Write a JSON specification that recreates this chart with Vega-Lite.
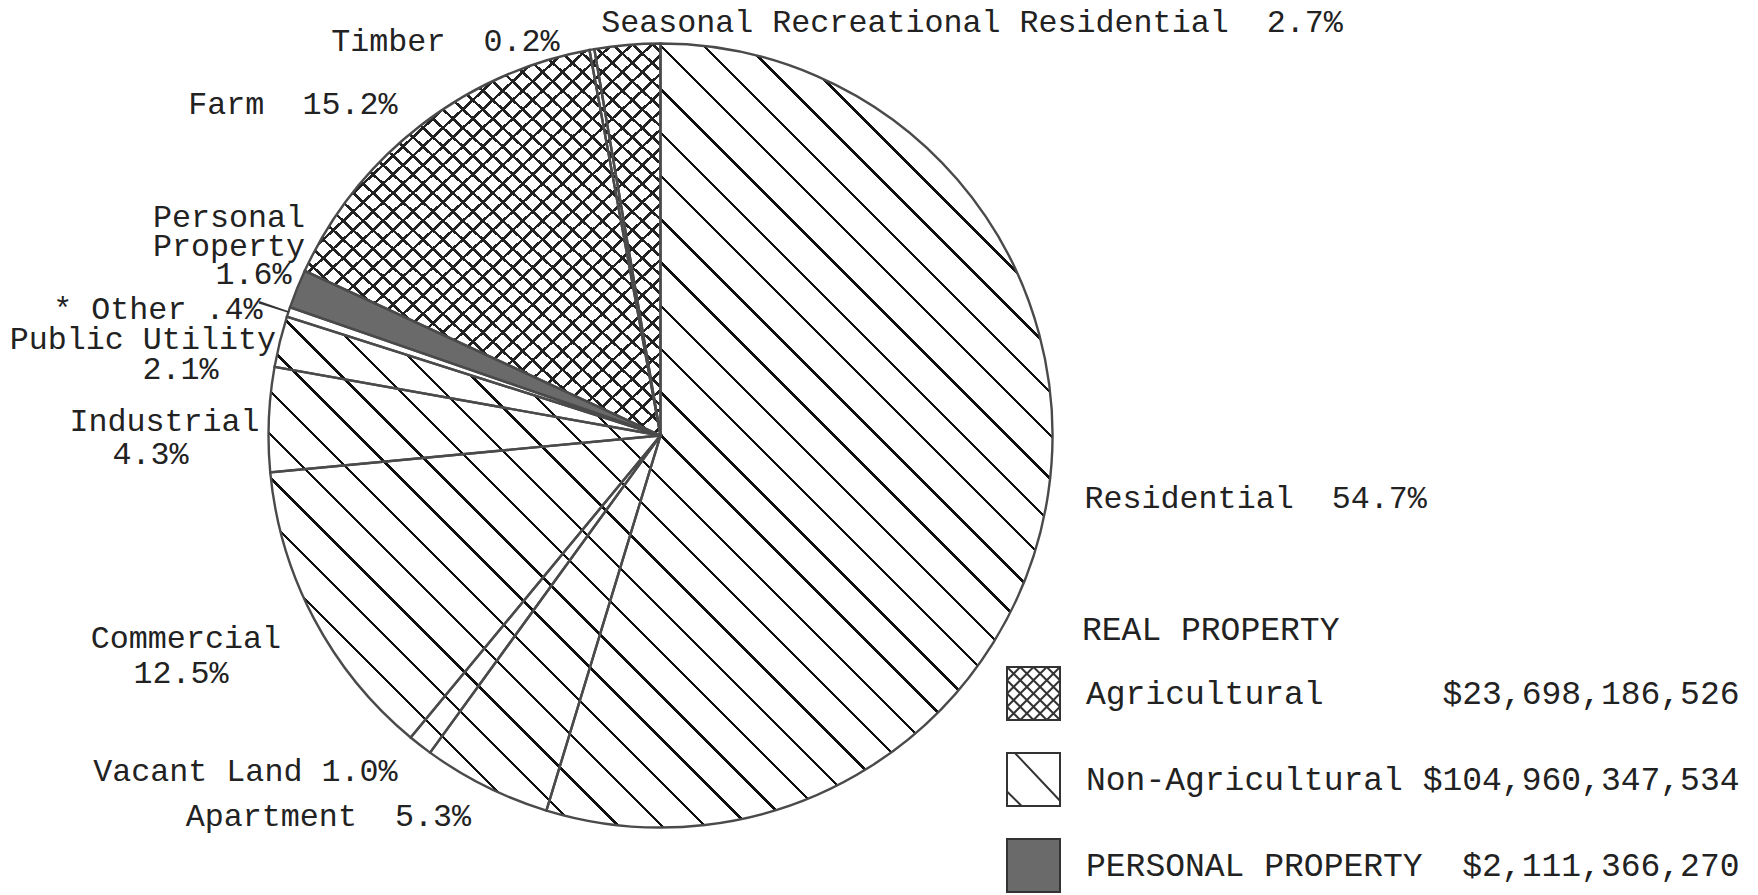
{
  "$schema": "https://vega.github.io/schema/vega-lite/v6.json",
  "width": 1321,
  "height": 871,
  "autosize": {"type": "none"},
  "padding": {"left": 0, "top": 0, "right": 437, "bottom": 24},
  "background": "white",
  "config": {
    "view": {"stroke": null},
    "text": {"font": "Liberation Mono", "fontSize": 31.7, "color": "#222", "baseline": "alphabetic"}
  },
  "datasets": {
    "slices": [
      {"name": "Residential", "pct": 54.7, "order": 1, "group": "Non-Agricultural", "label1": "Residential\u00a0\u00a054.7%"},
      {"name": "Apartment", "pct": 5.3, "order": 2, "group": "Non-Agricultural", "label1": "Apartment\u00a0\u00a05.3%"},
      {"name": "Vacant Land", "pct": 1.0, "order": 3, "group": "Non-Agricultural", "label1": "Vacant Land 1.0%"},
      {"name": "Commercial", "pct": 12.5, "order": 4, "group": "Non-Agricultural", "label1": "Commercial", "label2": "12.5%"},
      {"name": "Industrial", "pct": 4.3, "order": 5, "group": "Non-Agricultural", "label1": "Industrial", "label2": "4.3%"},
      {"name": "Public Utility", "pct": 2.1, "order": 6, "group": "Non-Agricultural", "label1": "Public Utility", "label2": "2.1%"},
      {"name": "Other", "pct": 0.4, "order": 7, "group": "Non-Agricultural", "label1": "* Other .4%"},
      {"name": "Personal Property", "pct": 1.6, "order": 8, "group": "PERSONAL PROPERTY", "label1": ["Personal", "Property"], "label2": "1.6%"},
      {"name": "Farm", "pct": 15.2, "order": 9, "group": "Agricultural", "label1": "Farm\u00a0\u00a015.2%"},
      {"name": "Timber", "pct": 0.2, "order": 10, "group": "Agricultural", "label1": "Timber\u00a0\u00a00.2%"},
      {"name": "Seasonal Recreational Residential", "pct": 2.7, "order": 11, "group": "Agricultural", "label1": "Seasonal Recreational Residential\u00a0\u00a02.7%"}
    ]
  },
  "data": {"name": "slices"},
  "layer": [
    {
      "transform": [{"aggregate": [{"op": "sum", "field": "pct", "as": "total"}]}],
      "mark": {
        "type": "arc", "radius": 392,
        "fill": {
          "gradient": "linear", "x1": 0, "y1": 1, "x2": 1, "y2": 0,
          "stops": [
            {"offset": 0, "color": "#fff"},
            {"offset": 0.1679, "color": "#fff"}, {"offset": 0.1679, "color": "#111"}, {"offset": 0.1701, "color": "#111"}, {"offset": 0.1701, "color": "#fff"},
            {"offset": 0.1955, "color": "#fff"}, {"offset": 0.1955, "color": "#111"}, {"offset": 0.1977, "color": "#111"}, {"offset": 0.1977, "color": "#fff"},
            {"offset": 0.2231, "color": "#fff"}, {"offset": 0.2231, "color": "#111"}, {"offset": 0.2253, "color": "#111"}, {"offset": 0.2253, "color": "#fff"},
            {"offset": 0.2507, "color": "#fff"}, {"offset": 0.2507, "color": "#111"}, {"offset": 0.2529, "color": "#111"}, {"offset": 0.2529, "color": "#fff"},
            {"offset": 0.2783, "color": "#fff"}, {"offset": 0.2783, "color": "#111"}, {"offset": 0.2805, "color": "#111"}, {"offset": 0.2805, "color": "#fff"},
            {"offset": 0.3059, "color": "#fff"}, {"offset": 0.3059, "color": "#111"}, {"offset": 0.3081, "color": "#111"}, {"offset": 0.3081, "color": "#fff"},
            {"offset": 0.3335, "color": "#fff"}, {"offset": 0.3335, "color": "#111"}, {"offset": 0.3357, "color": "#111"}, {"offset": 0.3357, "color": "#fff"},
            {"offset": 0.3611, "color": "#fff"}, {"offset": 0.3611, "color": "#111"}, {"offset": 0.3633, "color": "#111"}, {"offset": 0.3633, "color": "#fff"},
            {"offset": 0.3887, "color": "#fff"}, {"offset": 0.3887, "color": "#111"}, {"offset": 0.3909, "color": "#111"}, {"offset": 0.3909, "color": "#fff"},
            {"offset": 0.4163, "color": "#fff"}, {"offset": 0.4163, "color": "#111"}, {"offset": 0.4185, "color": "#111"}, {"offset": 0.4185, "color": "#fff"},
            {"offset": 0.4439, "color": "#fff"}, {"offset": 0.4439, "color": "#111"}, {"offset": 0.4461, "color": "#111"}, {"offset": 0.4461, "color": "#fff"},
            {"offset": 0.4715, "color": "#fff"}, {"offset": 0.4715, "color": "#111"}, {"offset": 0.4737, "color": "#111"}, {"offset": 0.4737, "color": "#fff"},
            {"offset": 0.4991, "color": "#fff"}, {"offset": 0.4991, "color": "#111"}, {"offset": 0.5013, "color": "#111"}, {"offset": 0.5013, "color": "#fff"},
            {"offset": 0.5267, "color": "#fff"}, {"offset": 0.5267, "color": "#111"}, {"offset": 0.5289, "color": "#111"}, {"offset": 0.5289, "color": "#fff"},
            {"offset": 0.5543, "color": "#fff"}, {"offset": 0.5543, "color": "#111"}, {"offset": 0.5565, "color": "#111"}, {"offset": 0.5565, "color": "#fff"},
            {"offset": 0.5819, "color": "#fff"}, {"offset": 0.5819, "color": "#111"}, {"offset": 0.5841, "color": "#111"}, {"offset": 0.5841, "color": "#fff"},
            {"offset": 0.6095, "color": "#fff"}, {"offset": 0.6095, "color": "#111"}, {"offset": 0.6117, "color": "#111"}, {"offset": 0.6117, "color": "#fff"},
            {"offset": 0.6371, "color": "#fff"}, {"offset": 0.6371, "color": "#111"}, {"offset": 0.6393, "color": "#111"}, {"offset": 0.6393, "color": "#fff"},
            {"offset": 0.6647, "color": "#fff"}, {"offset": 0.6647, "color": "#111"}, {"offset": 0.6669, "color": "#111"}, {"offset": 0.6669, "color": "#fff"},
            {"offset": 0.6923, "color": "#fff"}, {"offset": 0.6923, "color": "#111"}, {"offset": 0.6945, "color": "#111"}, {"offset": 0.6945, "color": "#fff"},
            {"offset": 0.7199, "color": "#fff"}, {"offset": 0.7199, "color": "#111"}, {"offset": 0.7221, "color": "#111"}, {"offset": 0.7221, "color": "#fff"},
            {"offset": 0.7475, "color": "#fff"}, {"offset": 0.7475, "color": "#111"}, {"offset": 0.7497, "color": "#111"}, {"offset": 0.7497, "color": "#fff"},
            {"offset": 0.7751, "color": "#fff"}, {"offset": 0.7751, "color": "#111"}, {"offset": 0.7773, "color": "#111"}, {"offset": 0.7773, "color": "#fff"},
            {"offset": 0.8027, "color": "#fff"}, {"offset": 0.8027, "color": "#111"}, {"offset": 0.8049, "color": "#111"}, {"offset": 0.8049, "color": "#fff"},
            {"offset": 0.8303, "color": "#fff"}, {"offset": 0.8303, "color": "#111"}, {"offset": 0.8325, "color": "#111"}, {"offset": 0.8325, "color": "#fff"},
            {"offset": 1, "color": "#fff"}
          ]
        }
      },
      "encoding": {"theta": {"field": "total", "type": "quantitative"}}
    },
    {
      "transform": [
        {"aggregate": [{"op": "sum", "field": "pct", "as": "gpct"}, {"op": "min", "field": "order", "as": "gorder"}], "groupby": ["group"]}
      ],
      "mark": {"type": "arc", "radius": 392},
      "encoding": {
        "theta": {"field": "gpct", "type": "quantitative", "stack": true},
        "order": {"field": "gorder", "type": "quantitative"},
        "fill": {
          "field": "group", "type": "nominal",
          "scale": {"domain": ["Agricultural", "Non-Agricultural", "PERSONAL PROPERTY"], "range": ["white", "transparent", "#6a6a6a"]},
          "legend": {
            "title": "REAL PROPERTY",
            "orient": "none", "legendX": 1006, "legendY": 614, "direction": "vertical",
            "padding": 0,
            "titleFont": "Liberation Mono", "titleFontSize": 33, "titleFontWeight": "normal", "titleColor": "#222", "titlePadding": 19, "titleLimit": 0,
            "labelFont": "Liberation Mono", "labelFontSize": 33, "labelColor": "#222", "labelLimit": 0, "labelOffset": 25,
            "symbolType": "square", "symbolSize": 2809, "symbolStrokeWidth": 2, "symbolStrokeColor": "#333",
            "rowPadding": 25,
            "labelExpr": "datum.value === 'Agricultural' ? 'Agricultural\u00a0\u00a0\u00a0\u00a0\u00a0\u00a0$23,698,186,526' : datum.value === 'Non-Agricultural' ? 'Non-Agricultural $104,960,347,534' : 'PERSONAL\u00a0PROPERTY\u00a0\u00a0$2,111,366,270'",
            "encode": {
              "title": {"update": {"dx": {"value": 76}}},
              "symbols": {
                "update": {
                  "shape": [
                    {"test": "datum.value === 'Agricultural'", "value": "M-1,-1H1V1H-1Z M-1,-0.5L-0.5,-1 M-1,0L0,-1 M-1,0.5L0.5,-1 M-1,1L1,-1 M-0.5,1L1,-0.5 M0,1L1,0 M0.5,1L1,0.5 M-1,0.5L-0.5,1 M-1,0L0,1 M-1,-0.5L0.5,1 M-1,-1L1,1 M-0.5,-1L1,0.5 M0,-1L1,0 M0.5,-1L1,-0.5"},
                    {"test": "datum.value === 'Non-Agricultural'", "value": "M-1,-1H1V1H-1Z M-0.7,-1L1,0.8 M-1,0.45L-0.45,1"},
                    {"value": "square"}
                  ],
                  "stroke": {"value": "#333"},
                  "strokeWidth": {"value": 2}
                }
              }
            }
          }
        }
      }
    },
    {
      "transform": [
        {"aggregate": [{"op": "sum", "field": "pct", "as": "gpct"}, {"op": "min", "field": "order", "as": "gorder"}], "groupby": ["group"]},
        {"stack": "gpct", "groupby": [], "sort": [{"field": "gorder", "order": "ascending"}], "as": ["g0", "g1"]},
        {"filter": "datum.group === 'Agricultural'"}
      ],
      "mark": {
        "type": "arc", "radius": 392,
        "fill": {
          "gradient": "linear", "x1": 0.0448, "y1": 1.0379, "x2": 0.9552, "y2": -0.0379,
          "stops": [
            {"offset": 0, "color": "rgba(34,34,34,0)"},
            {"offset": 0.0095, "color": "rgba(34,34,34,0)"}, {"offset": 0.0095, "color": "#222"}, {"offset": 0.0145, "color": "#222"}, {"offset": 0.0145, "color": "rgba(34,34,34,0)"},
            {"offset": 0.0352, "color": "rgba(34,34,34,0)"}, {"offset": 0.0352, "color": "#222"}, {"offset": 0.0402, "color": "#222"}, {"offset": 0.0402, "color": "rgba(34,34,34,0)"},
            {"offset": 0.0609, "color": "rgba(34,34,34,0)"}, {"offset": 0.0609, "color": "#222"}, {"offset": 0.0659, "color": "#222"}, {"offset": 0.0659, "color": "rgba(34,34,34,0)"},
            {"offset": 0.0866, "color": "rgba(34,34,34,0)"}, {"offset": 0.0866, "color": "#222"}, {"offset": 0.0916, "color": "#222"}, {"offset": 0.0916, "color": "rgba(34,34,34,0)"},
            {"offset": 0.1123, "color": "rgba(34,34,34,0)"}, {"offset": 0.1123, "color": "#222"}, {"offset": 0.1173, "color": "#222"}, {"offset": 0.1173, "color": "rgba(34,34,34,0)"},
            {"offset": 0.138, "color": "rgba(34,34,34,0)"}, {"offset": 0.138, "color": "#222"}, {"offset": 0.143, "color": "#222"}, {"offset": 0.143, "color": "rgba(34,34,34,0)"},
            {"offset": 0.1637, "color": "rgba(34,34,34,0)"}, {"offset": 0.1637, "color": "#222"}, {"offset": 0.1687, "color": "#222"}, {"offset": 0.1687, "color": "rgba(34,34,34,0)"},
            {"offset": 0.1894, "color": "rgba(34,34,34,0)"}, {"offset": 0.1894, "color": "#222"}, {"offset": 0.1944, "color": "#222"}, {"offset": 0.1944, "color": "rgba(34,34,34,0)"},
            {"offset": 0.2151, "color": "rgba(34,34,34,0)"}, {"offset": 0.2151, "color": "#222"}, {"offset": 0.2201, "color": "#222"}, {"offset": 0.2201, "color": "rgba(34,34,34,0)"},
            {"offset": 0.2408, "color": "rgba(34,34,34,0)"}, {"offset": 0.2408, "color": "#222"}, {"offset": 0.2458, "color": "#222"}, {"offset": 0.2458, "color": "rgba(34,34,34,0)"},
            {"offset": 0.2664, "color": "rgba(34,34,34,0)"}, {"offset": 0.2664, "color": "#222"}, {"offset": 0.2714, "color": "#222"}, {"offset": 0.2714, "color": "rgba(34,34,34,0)"},
            {"offset": 0.2921, "color": "rgba(34,34,34,0)"}, {"offset": 0.2921, "color": "#222"}, {"offset": 0.2971, "color": "#222"}, {"offset": 0.2971, "color": "rgba(34,34,34,0)"},
            {"offset": 0.3178, "color": "rgba(34,34,34,0)"}, {"offset": 0.3178, "color": "#222"}, {"offset": 0.3228, "color": "#222"}, {"offset": 0.3228, "color": "rgba(34,34,34,0)"},
            {"offset": 0.3435, "color": "rgba(34,34,34,0)"}, {"offset": 0.3435, "color": "#222"}, {"offset": 0.3485, "color": "#222"}, {"offset": 0.3485, "color": "rgba(34,34,34,0)"},
            {"offset": 0.3692, "color": "rgba(34,34,34,0)"}, {"offset": 0.3692, "color": "#222"}, {"offset": 0.3742, "color": "#222"}, {"offset": 0.3742, "color": "rgba(34,34,34,0)"},
            {"offset": 0.3949, "color": "rgba(34,34,34,0)"}, {"offset": 0.3949, "color": "#222"}, {"offset": 0.3999, "color": "#222"}, {"offset": 0.3999, "color": "rgba(34,34,34,0)"},
            {"offset": 0.4206, "color": "rgba(34,34,34,0)"}, {"offset": 0.4206, "color": "#222"}, {"offset": 0.4256, "color": "#222"}, {"offset": 0.4256, "color": "rgba(34,34,34,0)"},
            {"offset": 0.4463, "color": "rgba(34,34,34,0)"}, {"offset": 0.4463, "color": "#222"}, {"offset": 0.4513, "color": "#222"}, {"offset": 0.4513, "color": "rgba(34,34,34,0)"},
            {"offset": 0.472, "color": "rgba(34,34,34,0)"}, {"offset": 0.472, "color": "#222"}, {"offset": 0.477, "color": "#222"}, {"offset": 0.477, "color": "rgba(34,34,34,0)"},
            {"offset": 0.4977, "color": "rgba(34,34,34,0)"}, {"offset": 0.4977, "color": "#222"}, {"offset": 0.5027, "color": "#222"}, {"offset": 0.5027, "color": "rgba(34,34,34,0)"},
            {"offset": 0.5234, "color": "rgba(34,34,34,0)"}, {"offset": 0.5234, "color": "#222"}, {"offset": 0.5284, "color": "#222"}, {"offset": 0.5284, "color": "rgba(34,34,34,0)"},
            {"offset": 0.5491, "color": "rgba(34,34,34,0)"}, {"offset": 0.5491, "color": "#222"}, {"offset": 0.5541, "color": "#222"}, {"offset": 0.5541, "color": "rgba(34,34,34,0)"},
            {"offset": 0.5748, "color": "rgba(34,34,34,0)"}, {"offset": 0.5748, "color": "#222"}, {"offset": 0.5798, "color": "#222"}, {"offset": 0.5798, "color": "rgba(34,34,34,0)"},
            {"offset": 0.6005, "color": "rgba(34,34,34,0)"}, {"offset": 0.6005, "color": "#222"}, {"offset": 0.6055, "color": "#222"}, {"offset": 0.6055, "color": "rgba(34,34,34,0)"},
            {"offset": 0.6262, "color": "rgba(34,34,34,0)"}, {"offset": 0.6262, "color": "#222"}, {"offset": 0.6312, "color": "#222"}, {"offset": 0.6312, "color": "rgba(34,34,34,0)"},
            {"offset": 0.6519, "color": "rgba(34,34,34,0)"}, {"offset": 0.6519, "color": "#222"}, {"offset": 0.6569, "color": "#222"}, {"offset": 0.6569, "color": "rgba(34,34,34,0)"},
            {"offset": 0.6775, "color": "rgba(34,34,34,0)"}, {"offset": 0.6775, "color": "#222"}, {"offset": 0.6825, "color": "#222"}, {"offset": 0.6825, "color": "rgba(34,34,34,0)"},
            {"offset": 0.7032, "color": "rgba(34,34,34,0)"}, {"offset": 0.7032, "color": "#222"}, {"offset": 0.7082, "color": "#222"}, {"offset": 0.7082, "color": "rgba(34,34,34,0)"},
            {"offset": 0.7289, "color": "rgba(34,34,34,0)"}, {"offset": 0.7289, "color": "#222"}, {"offset": 0.7339, "color": "#222"}, {"offset": 0.7339, "color": "rgba(34,34,34,0)"},
            {"offset": 0.7546, "color": "rgba(34,34,34,0)"}, {"offset": 0.7546, "color": "#222"}, {"offset": 0.7596, "color": "#222"}, {"offset": 0.7596, "color": "rgba(34,34,34,0)"},
            {"offset": 0.7803, "color": "rgba(34,34,34,0)"}, {"offset": 0.7803, "color": "#222"}, {"offset": 0.7853, "color": "#222"}, {"offset": 0.7853, "color": "rgba(34,34,34,0)"},
            {"offset": 0.806, "color": "rgba(34,34,34,0)"}, {"offset": 0.806, "color": "#222"}, {"offset": 0.811, "color": "#222"}, {"offset": 0.811, "color": "rgba(34,34,34,0)"},
            {"offset": 0.8317, "color": "rgba(34,34,34,0)"}, {"offset": 0.8317, "color": "#222"}, {"offset": 0.8367, "color": "#222"}, {"offset": 0.8367, "color": "rgba(34,34,34,0)"},
            {"offset": 0.8574, "color": "rgba(34,34,34,0)"}, {"offset": 0.8574, "color": "#222"}, {"offset": 0.8624, "color": "#222"}, {"offset": 0.8624, "color": "rgba(34,34,34,0)"},
            {"offset": 0.8831, "color": "rgba(34,34,34,0)"}, {"offset": 0.8831, "color": "#222"}, {"offset": 0.8881, "color": "#222"}, {"offset": 0.8881, "color": "rgba(34,34,34,0)"},
            {"offset": 0.9088, "color": "rgba(34,34,34,0)"}, {"offset": 0.9088, "color": "#222"}, {"offset": 0.9138, "color": "#222"}, {"offset": 0.9138, "color": "rgba(34,34,34,0)"},
            {"offset": 0.9345, "color": "rgba(34,34,34,0)"}, {"offset": 0.9345, "color": "#222"}, {"offset": 0.9395, "color": "#222"}, {"offset": 0.9395, "color": "rgba(34,34,34,0)"},
            {"offset": 0.9602, "color": "rgba(34,34,34,0)"}, {"offset": 0.9602, "color": "#222"}, {"offset": 0.9652, "color": "#222"}, {"offset": 0.9652, "color": "rgba(34,34,34,0)"},
            {"offset": 0.9859, "color": "rgba(34,34,34,0)"}, {"offset": 0.9859, "color": "#222"}, {"offset": 0.9909, "color": "#222"}, {"offset": 0.9909, "color": "rgba(34,34,34,0)"},
            {"offset": 1, "color": "rgba(34,34,34,0)"}
          ]
        }
      },
      "encoding": {"theta": {"field": "g0", "type": "quantitative"}, "theta2": {"field": "g1"}}
    },
    {
      "transform": [
        {"aggregate": [{"op": "sum", "field": "pct", "as": "gpct"}, {"op": "min", "field": "order", "as": "gorder"}], "groupby": ["group"]},
        {"stack": "gpct", "groupby": [], "sort": [{"field": "gorder", "order": "ascending"}], "as": ["g0", "g1"]},
        {"filter": "datum.group === 'Agricultural'"}
      ],
      "mark": {
        "type": "arc", "radius": 392,
        "fill": {
          "gradient": "linear", "x1": 0.0448, "y1": -0.0379, "x2": 0.9552, "y2": 1.0379,
          "stops": [
            {"offset": 0, "color": "rgba(34,34,34,0)"},
            {"offset": 0.0095, "color": "rgba(34,34,34,0)"}, {"offset": 0.0095, "color": "#222"}, {"offset": 0.0145, "color": "#222"}, {"offset": 0.0145, "color": "rgba(34,34,34,0)"},
            {"offset": 0.0352, "color": "rgba(34,34,34,0)"}, {"offset": 0.0352, "color": "#222"}, {"offset": 0.0402, "color": "#222"}, {"offset": 0.0402, "color": "rgba(34,34,34,0)"},
            {"offset": 0.0609, "color": "rgba(34,34,34,0)"}, {"offset": 0.0609, "color": "#222"}, {"offset": 0.0659, "color": "#222"}, {"offset": 0.0659, "color": "rgba(34,34,34,0)"},
            {"offset": 0.0866, "color": "rgba(34,34,34,0)"}, {"offset": 0.0866, "color": "#222"}, {"offset": 0.0916, "color": "#222"}, {"offset": 0.0916, "color": "rgba(34,34,34,0)"},
            {"offset": 0.1123, "color": "rgba(34,34,34,0)"}, {"offset": 0.1123, "color": "#222"}, {"offset": 0.1173, "color": "#222"}, {"offset": 0.1173, "color": "rgba(34,34,34,0)"},
            {"offset": 0.138, "color": "rgba(34,34,34,0)"}, {"offset": 0.138, "color": "#222"}, {"offset": 0.143, "color": "#222"}, {"offset": 0.143, "color": "rgba(34,34,34,0)"},
            {"offset": 0.1637, "color": "rgba(34,34,34,0)"}, {"offset": 0.1637, "color": "#222"}, {"offset": 0.1687, "color": "#222"}, {"offset": 0.1687, "color": "rgba(34,34,34,0)"},
            {"offset": 0.1894, "color": "rgba(34,34,34,0)"}, {"offset": 0.1894, "color": "#222"}, {"offset": 0.1944, "color": "#222"}, {"offset": 0.1944, "color": "rgba(34,34,34,0)"},
            {"offset": 0.2151, "color": "rgba(34,34,34,0)"}, {"offset": 0.2151, "color": "#222"}, {"offset": 0.2201, "color": "#222"}, {"offset": 0.2201, "color": "rgba(34,34,34,0)"},
            {"offset": 0.2408, "color": "rgba(34,34,34,0)"}, {"offset": 0.2408, "color": "#222"}, {"offset": 0.2458, "color": "#222"}, {"offset": 0.2458, "color": "rgba(34,34,34,0)"},
            {"offset": 0.2664, "color": "rgba(34,34,34,0)"}, {"offset": 0.2664, "color": "#222"}, {"offset": 0.2714, "color": "#222"}, {"offset": 0.2714, "color": "rgba(34,34,34,0)"},
            {"offset": 0.2921, "color": "rgba(34,34,34,0)"}, {"offset": 0.2921, "color": "#222"}, {"offset": 0.2971, "color": "#222"}, {"offset": 0.2971, "color": "rgba(34,34,34,0)"},
            {"offset": 0.3178, "color": "rgba(34,34,34,0)"}, {"offset": 0.3178, "color": "#222"}, {"offset": 0.3228, "color": "#222"}, {"offset": 0.3228, "color": "rgba(34,34,34,0)"},
            {"offset": 0.3435, "color": "rgba(34,34,34,0)"}, {"offset": 0.3435, "color": "#222"}, {"offset": 0.3485, "color": "#222"}, {"offset": 0.3485, "color": "rgba(34,34,34,0)"},
            {"offset": 0.3692, "color": "rgba(34,34,34,0)"}, {"offset": 0.3692, "color": "#222"}, {"offset": 0.3742, "color": "#222"}, {"offset": 0.3742, "color": "rgba(34,34,34,0)"},
            {"offset": 0.3949, "color": "rgba(34,34,34,0)"}, {"offset": 0.3949, "color": "#222"}, {"offset": 0.3999, "color": "#222"}, {"offset": 0.3999, "color": "rgba(34,34,34,0)"},
            {"offset": 0.4206, "color": "rgba(34,34,34,0)"}, {"offset": 0.4206, "color": "#222"}, {"offset": 0.4256, "color": "#222"}, {"offset": 0.4256, "color": "rgba(34,34,34,0)"},
            {"offset": 0.4463, "color": "rgba(34,34,34,0)"}, {"offset": 0.4463, "color": "#222"}, {"offset": 0.4513, "color": "#222"}, {"offset": 0.4513, "color": "rgba(34,34,34,0)"},
            {"offset": 0.472, "color": "rgba(34,34,34,0)"}, {"offset": 0.472, "color": "#222"}, {"offset": 0.477, "color": "#222"}, {"offset": 0.477, "color": "rgba(34,34,34,0)"},
            {"offset": 0.4977, "color": "rgba(34,34,34,0)"}, {"offset": 0.4977, "color": "#222"}, {"offset": 0.5027, "color": "#222"}, {"offset": 0.5027, "color": "rgba(34,34,34,0)"},
            {"offset": 0.5234, "color": "rgba(34,34,34,0)"}, {"offset": 0.5234, "color": "#222"}, {"offset": 0.5284, "color": "#222"}, {"offset": 0.5284, "color": "rgba(34,34,34,0)"},
            {"offset": 0.5491, "color": "rgba(34,34,34,0)"}, {"offset": 0.5491, "color": "#222"}, {"offset": 0.5541, "color": "#222"}, {"offset": 0.5541, "color": "rgba(34,34,34,0)"},
            {"offset": 0.5748, "color": "rgba(34,34,34,0)"}, {"offset": 0.5748, "color": "#222"}, {"offset": 0.5798, "color": "#222"}, {"offset": 0.5798, "color": "rgba(34,34,34,0)"},
            {"offset": 0.6005, "color": "rgba(34,34,34,0)"}, {"offset": 0.6005, "color": "#222"}, {"offset": 0.6055, "color": "#222"}, {"offset": 0.6055, "color": "rgba(34,34,34,0)"},
            {"offset": 0.6262, "color": "rgba(34,34,34,0)"}, {"offset": 0.6262, "color": "#222"}, {"offset": 0.6312, "color": "#222"}, {"offset": 0.6312, "color": "rgba(34,34,34,0)"},
            {"offset": 0.6519, "color": "rgba(34,34,34,0)"}, {"offset": 0.6519, "color": "#222"}, {"offset": 0.6569, "color": "#222"}, {"offset": 0.6569, "color": "rgba(34,34,34,0)"},
            {"offset": 0.6775, "color": "rgba(34,34,34,0)"}, {"offset": 0.6775, "color": "#222"}, {"offset": 0.6825, "color": "#222"}, {"offset": 0.6825, "color": "rgba(34,34,34,0)"},
            {"offset": 0.7032, "color": "rgba(34,34,34,0)"}, {"offset": 0.7032, "color": "#222"}, {"offset": 0.7082, "color": "#222"}, {"offset": 0.7082, "color": "rgba(34,34,34,0)"},
            {"offset": 0.7289, "color": "rgba(34,34,34,0)"}, {"offset": 0.7289, "color": "#222"}, {"offset": 0.7339, "color": "#222"}, {"offset": 0.7339, "color": "rgba(34,34,34,0)"},
            {"offset": 0.7546, "color": "rgba(34,34,34,0)"}, {"offset": 0.7546, "color": "#222"}, {"offset": 0.7596, "color": "#222"}, {"offset": 0.7596, "color": "rgba(34,34,34,0)"},
            {"offset": 0.7803, "color": "rgba(34,34,34,0)"}, {"offset": 0.7803, "color": "#222"}, {"offset": 0.7853, "color": "#222"}, {"offset": 0.7853, "color": "rgba(34,34,34,0)"},
            {"offset": 0.806, "color": "rgba(34,34,34,0)"}, {"offset": 0.806, "color": "#222"}, {"offset": 0.811, "color": "#222"}, {"offset": 0.811, "color": "rgba(34,34,34,0)"},
            {"offset": 0.8317, "color": "rgba(34,34,34,0)"}, {"offset": 0.8317, "color": "#222"}, {"offset": 0.8367, "color": "#222"}, {"offset": 0.8367, "color": "rgba(34,34,34,0)"},
            {"offset": 0.8574, "color": "rgba(34,34,34,0)"}, {"offset": 0.8574, "color": "#222"}, {"offset": 0.8624, "color": "#222"}, {"offset": 0.8624, "color": "rgba(34,34,34,0)"},
            {"offset": 0.8831, "color": "rgba(34,34,34,0)"}, {"offset": 0.8831, "color": "#222"}, {"offset": 0.8881, "color": "#222"}, {"offset": 0.8881, "color": "rgba(34,34,34,0)"},
            {"offset": 0.9088, "color": "rgba(34,34,34,0)"}, {"offset": 0.9088, "color": "#222"}, {"offset": 0.9138, "color": "#222"}, {"offset": 0.9138, "color": "rgba(34,34,34,0)"},
            {"offset": 0.9345, "color": "rgba(34,34,34,0)"}, {"offset": 0.9345, "color": "#222"}, {"offset": 0.9395, "color": "#222"}, {"offset": 0.9395, "color": "rgba(34,34,34,0)"},
            {"offset": 0.9602, "color": "rgba(34,34,34,0)"}, {"offset": 0.9602, "color": "#222"}, {"offset": 0.9652, "color": "#222"}, {"offset": 0.9652, "color": "rgba(34,34,34,0)"},
            {"offset": 0.9859, "color": "rgba(34,34,34,0)"}, {"offset": 0.9859, "color": "#222"}, {"offset": 0.9909, "color": "#222"}, {"offset": 0.9909, "color": "rgba(34,34,34,0)"},
            {"offset": 1, "color": "rgba(34,34,34,0)"}
          ]
        }
      },
      "encoding": {"theta": {"field": "g0", "type": "quantitative"}, "theta2": {"field": "g1"}}
    },
    {
      "mark": {"type": "arc", "radius": 392},
      "encoding": {
        "theta": {"field": "pct", "type": "quantitative", "stack": true},
        "order": {"field": "order", "type": "quantitative"},
        "fill": {"condition": {"test": "datum.name === 'Other'", "value": "white"}, "value": "transparent"}
      }
    },
    {
      "mark": {"type": "arc", "radius": 392, "fill": "transparent", "stroke": "#4a4a4a", "strokeWidth": 2.4},
      "encoding": {
        "theta": {"field": "pct", "type": "quantitative", "stack": true},
        "order": {"field": "order", "type": "quantitative"}
      }
    },
    {
      "mark": {"type": "arc", "radius": 423, "radius2": 392, "padAngle": 0.01424},
      "encoding": {
        "theta": {"field": "pct", "type": "quantitative", "stack": true},
        "order": {"field": "order", "type": "quantitative"},
        "fill": {"condition": {"test": "datum.name === 'Other'", "value": "#333"}, "value": "transparent"}
      }
    },
    {
      "encoding": {
        "theta": {"field": "pct", "type": "quantitative", "stack": true},
        "order": {"field": "order", "type": "quantitative"}
      },
      "layer": [
        {"mark": {"type": "text", "radius": 404, "align": "left", "dx": 24.4, "dy": 13.1},
         "encoding": {"text": {"condition": {"test": "datum.name === 'Residential'", "field": "label1", "type": "nominal"}, "value": ""}}},
        {"mark": {"type": "text", "radius": 404, "align": "right", "dx": -9.5, "dy": 28.8},
         "encoding": {"text": {"condition": {"test": "datum.name === 'Apartment'", "field": "label1", "type": "nominal"}, "value": ""}}},
        {"mark": {"type": "text", "radius": 404, "align": "right", "dx": -15.4, "dy": 26.3},
         "encoding": {"text": {"condition": {"test": "datum.name === 'Vacant Land'", "field": "label1", "type": "nominal"}, "value": ""}}},
        {"mark": {"type": "text", "radius": 404, "align": "right", "dx": -22.5, "dy": 23.5},
         "encoding": {"text": {"condition": {"test": "datum.name === 'Commercial'", "field": "label1", "type": "nominal"}, "value": ""}}},
        {"mark": {"type": "text", "radius": 404, "align": "right", "dx": -75, "dy": 58.5},
         "encoding": {"text": {"condition": {"test": "datum.name === 'Commercial'", "field": "label2", "type": "nominal"}, "value": ""}}},
        {"mark": {"type": "text", "radius": 404, "align": "right", "dx": 2.7, "dy": 12},
         "encoding": {"text": {"condition": {"test": "datum.name === 'Industrial'", "field": "label1", "type": "nominal"}, "value": ""}}},
        {"mark": {"type": "text", "radius": 404, "align": "right", "dx": -68.3, "dy": 45},
         "encoding": {"text": {"condition": {"test": "datum.name === 'Industrial'", "field": "label2", "type": "nominal"}, "value": ""}}},
        {"mark": {"type": "text", "radius": 404, "align": "right", "dx": 7.7, "dy": 10.3},
         "encoding": {"text": {"condition": {"test": "datum.name === 'Public Utility'", "field": "label1", "type": "nominal"}, "value": ""}}},
        {"mark": {"type": "text", "radius": 404, "align": "right", "dx": -49.8, "dy": 40.3},
         "encoding": {"text": {"condition": {"test": "datum.name === 'Public Utility'", "field": "label2", "type": "nominal"}, "value": ""}}},
        {"mark": {"type": "text", "radius": 404, "align": "right", "dx": -14.6, "dy": 10.8},
         "encoding": {"text": {"condition": {"test": "datum.name === 'Other'", "field": "label1", "type": "nominal"}, "value": ""}}},
        {"mark": {"type": "text", "radius": 404, "align": "right", "dx": 19.2, "dy": -57.4, "lineHeight": 28.5},
         "encoding": {"text": {"condition": {"test": "datum.name === 'Personal Property'", "field": "label1", "type": "nominal"}, "value": ""}}},
        {"mark": {"type": "text", "radius": 404, "align": "right", "dx": 5.7, "dy": -0.4},
         "encoding": {"text": {"condition": {"test": "datum.name === 'Personal Property'", "field": "label2", "type": "nominal"}, "value": ""}}},
        {"mark": {"type": "text", "radius": 404, "align": "right", "dx": -15.4, "dy": -1.8},
         "encoding": {"text": {"condition": {"test": "datum.name === 'Farm'", "field": "label1", "type": "nominal"}, "value": ""}}},
        {"mark": {"type": "text", "radius": 404, "align": "right", "dx": -30.3, "dy": 13.3},
         "encoding": {"text": {"condition": {"test": "datum.name === 'Timber'", "field": "label1", "type": "nominal"}, "value": ""}}},
        {"mark": {"type": "text", "radius": 404, "align": "left", "dx": -25.1, "dy": -1},
         "encoding": {"text": {"condition": {"test": "datum.name === 'Seasonal Recreational Residential'", "field": "label1", "type": "nominal"}, "value": ""}}}
      ]
    }
  ]
}
